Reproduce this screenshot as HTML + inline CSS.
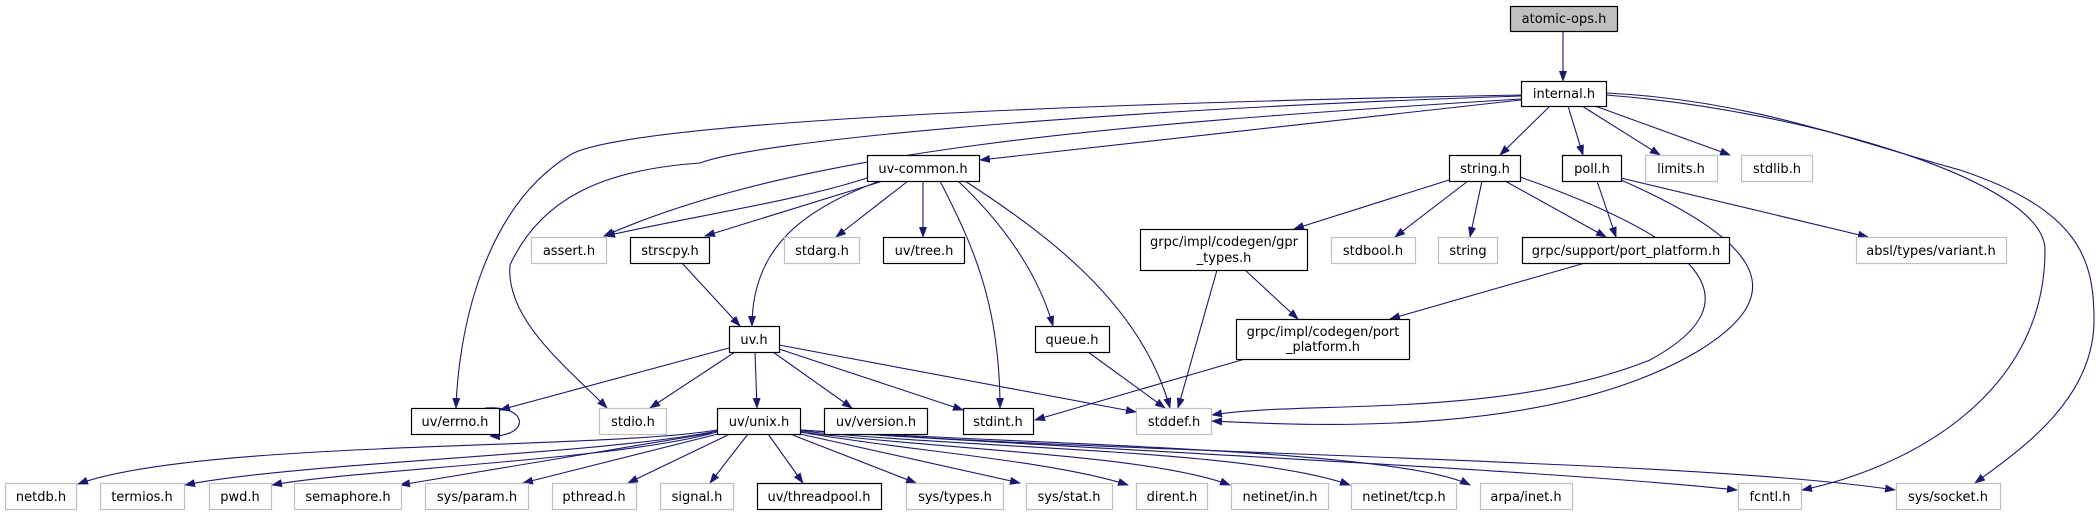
<!DOCTYPE html>
<html><head><meta charset="utf-8"><style>
html,body{margin:0;padding:0;background:#fff;width:2099px;height:515px;overflow:hidden}
svg text{font-family:"DejaVu Sans","Liberation Sans",sans-serif;font-size:13px;fill:#000}
</style></head><body>
<svg width="2099" height="515" viewBox="0 0 2099 515" xmlns="http://www.w3.org/2000/svg">
<defs><marker id="a" markerWidth="11" markerHeight="8" refX="10" refY="4" orient="auto" markerUnits="userSpaceOnUse"><path d="M0,0 L11,4 L0,8 z" fill="#191970"/></marker></defs>
<g fill="none" stroke="#191970" stroke-width="1.1" marker-end="url(#a)">
<path d="M1563,32 L1563,81"/>
<path d="M1521,100 L980,160"/>
<path d="M1521,99 C1100,125 800,150 604,236"/>
<path d="M1521,96 C1100,110 760,140 700,163 C600,170 540,200 510,265 C505,320 570,370 607,408"/>
<path d="M1521,95 C1000,105 620,125 570,155 C480,210 458,340 456,408"/>
<path d="M1606,95 C1800,110 2045,180 2045,250 C2045,400 1900,470 1802,490"/>
<path d="M1606,93 C1750,100 1850,140 1960,170 C2080,210 2094,260 2094,320 C2094,400 2020,450 1975,483"/>
<path d="M1550,106 L1500,155"/>
<path d="M1568,106 L1583,155"/>
<path d="M1582,106 L1660,155"/>
<path d="M1595,106 L1730,155"/>
<path d="M867,178 C800,200 700,215 605,236"/>
<path d="M883,181 L705,236"/>
<path d="M908,181 L836,237"/>
<path d="M923,181 L923,237"/>
<path d="M880,181 C800,210 752,250 752,326"/>
<path d="M940,181 C970,240 1000,300 1000,408"/>
<path d="M958,181 C1010,230 1040,280 1053,326"/>
<path d="M965,181 C1040,230 1140,300 1170,408"/>
<path d="M682,263 L740,326"/>
<path d="M729,348 L500,410"/>
<path d="M735,352 L650,408"/>
<path d="M755,352 L757,408"/>
<path d="M773,352 L852,408"/>
<path d="M779,349 L963,410"/>
<path d="M779,345 L1136,412"/>
<path d="M485,408 C530,405 530,437 490,436"/>
<path d="M1088,352 L1165,408"/>
<path d="M1217,270 L1178,408"/>
<path d="M1245,270 L1298,319"/>
<path d="M1245,359 L1035,420"/>
<path d="M1585,263 L1390,319"/>
<path d="M1449,180 L1294,229"/>
<path d="M1468,181 L1395,237"/>
<path d="M1482,181 L1470,237"/>
<path d="M1505,181 L1606,237"/>
<path d="M1520,177 C1700,240 1760,300 1650,360 C1500,420 1300,400 1212,415"/>
<path d="M1597,181 L1616,237"/>
<path d="M1621,178 L1868,237"/>
<path d="M1621,180 C1780,250 1780,300 1700,350 C1550,440 1300,425 1212,421"/>
<path d="M717,430 C600,450 200,440 78,484"/>
<path d="M717,431 C600,455 300,462 185,485"/>
<path d="M717,432 C620,460 350,470 272,485"/>
<path d="M712,433 L400,485"/>
<path d="M718,434 L523,483"/>
<path d="M730,434 L628,483"/>
<path d="M748,434 L710,483"/>
<path d="M768,434 L803,483"/>
<path d="M790,434 L916,483"/>
<path d="M800,434 L1020,483"/>
<path d="M800,432 C900,450 1050,460 1128,485"/>
<path d="M800,432 C950,450 1150,455 1230,485"/>
<path d="M800,431 C1000,450 1250,450 1350,485"/>
<path d="M800,430 C1050,445 1400,450 1470,485"/>
<path d="M800,430 C1100,450 1550,470 1737,490"/>
<path d="M800,430 C1150,455 1700,460 1895,490"/>
</g>
<g stroke-width="1.2">
<rect x="1510.5" y="6.5" width="107" height="25" fill="#bfbfbf" stroke="#000"/>
<g fill="#fff" stroke="#000">
<rect x="1521.5" y="81.5" width="85" height="25"/>
<rect x="867.5" y="155.5" width="112" height="26"/>
<rect x="1449.5" y="155.5" width="71" height="26"/>
<rect x="1562.5" y="155.5" width="59" height="26"/>
<rect x="630.5" y="237.5" width="79" height="26"/>
<rect x="883.5" y="237.5" width="81" height="26"/>
<rect x="1140.5" y="229.5" width="167" height="41"/>
<rect x="1522.5" y="237.5" width="207" height="26"/>
<rect x="729.5" y="326.5" width="50" height="26"/>
<rect x="1035.5" y="326.5" width="74" height="26"/>
<rect x="1236.5" y="319.5" width="173" height="40"/>
<rect x="411.5" y="408.5" width="88" height="26"/>
<rect x="717.5" y="408.5" width="83" height="26"/>
<rect x="824.5" y="408.5" width="103" height="26"/>
<rect x="963.5" y="408.5" width="70" height="26"/>
<rect x="757.5" y="483.5" width="124" height="26"/>
</g>
<g fill="#fff" stroke="#bfbfbf">
<rect x="1645.5" y="155.5" width="72" height="26"/>
<rect x="1741.5" y="155.5" width="71" height="26"/>
<rect x="531.5" y="237.5" width="75" height="26"/>
<rect x="784.5" y="237.5" width="75" height="26"/>
<rect x="1331.5" y="237.5" width="84" height="26"/>
<rect x="1438.5" y="237.5" width="59" height="26"/>
<rect x="1856.5" y="237.5" width="150" height="26"/>
<rect x="599.5" y="408.5" width="67" height="26"/>
<rect x="1136.5" y="408.5" width="75" height="26"/>
<rect x="5.5" y="483.5" width="71" height="26"/>
<rect x="100.5" y="483.5" width="84" height="26"/>
<rect x="209.5" y="483.5" width="62" height="26"/>
<rect x="294.5" y="483.5" width="107" height="26"/>
<rect x="425.5" y="483.5" width="103" height="26"/>
<rect x="552.5" y="483.5" width="84" height="26"/>
<rect x="660.5" y="483.5" width="73" height="26"/>
<rect x="906.5" y="483.5" width="97" height="26"/>
<rect x="1026.5" y="483.5" width="86" height="26"/>
<rect x="1136.5" y="483.5" width="71" height="26"/>
<rect x="1231.5" y="483.5" width="97" height="26"/>
<rect x="1351.5" y="483.5" width="105" height="26"/>
<rect x="1480.5" y="483.5" width="92" height="26"/>
<rect x="1738.5" y="483.5" width="63" height="26"/>
<rect x="1896.5" y="483.5" width="104" height="26"/>
</g>
</g>
<g text-anchor="middle">
<text x="1564" y="23">atomic-ops.h</text>
<text x="1564" y="98">internal.h</text>
<text x="923" y="173">uv-common.h</text>
<text x="1485" y="173">string.h</text>
<text x="1592" y="173">poll.h</text>
<text x="1681" y="173">limits.h</text>
<text x="1777" y="173">stdlib.h</text>
<text x="569" y="255">assert.h</text>
<text x="670" y="255">strscpy.h</text>
<text x="822" y="255">stdarg.h</text>
<text x="924" y="255">uv/tree.h</text>
<text x="1224" y="246">grpc/impl/codegen/gpr</text>
<text x="1224" y="262">_types.h</text>
<text x="1373" y="255">stdbool.h</text>
<text x="1468" y="255">string</text>
<text x="1626" y="255">grpc/support/port_platform.h</text>
<text x="1931" y="255">absl/types/variant.h</text>
<text x="754" y="344">uv.h</text>
<text x="1072" y="344">queue.h</text>
<text x="1323" y="336">grpc/impl/codegen/port</text>
<text x="1323" y="351">_platform.h</text>
<text x="455" y="426">uv/errno.h</text>
<text x="633" y="426">stdio.h</text>
<text x="759" y="426">uv/unix.h</text>
<text x="876" y="426">uv/version.h</text>
<text x="998" y="426">stdint.h</text>
<text x="1174" y="426">stddef.h</text>
<text x="41" y="501">netdb.h</text>
<text x="142" y="501">termios.h</text>
<text x="240" y="501">pwd.h</text>
<text x="348" y="501">semaphore.h</text>
<text x="477" y="501">sys/param.h</text>
<text x="594" y="501">pthread.h</text>
<text x="697" y="501">signal.h</text>
<text x="819" y="501">uv/threadpool.h</text>
<text x="955" y="501">sys/types.h</text>
<text x="1069" y="501">sys/stat.h</text>
<text x="1172" y="501">dirent.h</text>
<text x="1280" y="501">netinet/in.h</text>
<text x="1404" y="501">netinet/tcp.h</text>
<text x="1526" y="501">arpa/inet.h</text>
<text x="1770" y="501">fcntl.h</text>
<text x="1948" y="501">sys/socket.h</text>
</g>
</svg>
</body></html>
